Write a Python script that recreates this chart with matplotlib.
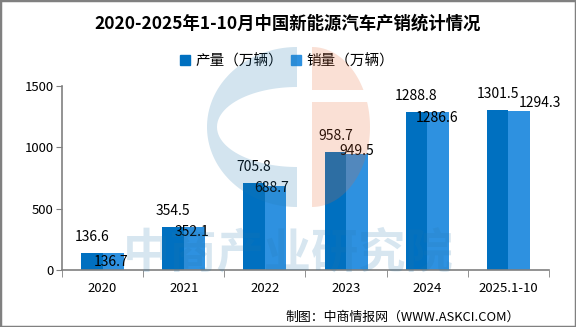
# -*- coding: utf-8 -*-
import numpy as np
import matplotlib
matplotlib.use('Agg')
from matplotlib import pyplot as plt
from matplotlib.patches import Polygon, Rectangle, Patch

plt.rcParams['font.family'] = ['Noto Sans CJK SC', 'DejaVu Sans']

# data
years = ['2020', '2021', '2022', '2023', '2024', '2025.1-10']
production = [136.6, 354.5, 705.8, 958.7, 1288.8, 1301.5]
sales = [136.7, 352.1, 688.7, 949.5, 1286.6, 1294.3]
series_names = ['产量（万辆）', '销量（万辆）']
yticks = [0, 500, 1000, 1500]

# small nudges (in points) for the sales labels, as placed in the original
sales_dx = [-1.5, -2, -3, 0, -1, 15]
sales_dy = [-6, -4, -2, 2, -4, 6]

W, H = 576, 327
c_prod = '#0070C0'
c_sales = '#2E91E0'
grey = '#808080'

fig = plt.figure(figsize=(W / 100, H / 100), dpi=100)
ax = fig.add_axes([62 / W, 1 - 270 / H, 487 / W, 184 / H])

x = np.arange(len(years))
bw = 0.265
ax.bar(x - bw / 2, production, bw, color=c_prod, zorder=2)
ax.bar(x + bw / 2, sales, bw, color=c_sales, zorder=2)

for i in range(len(years)):
    ax.annotate(f'{production[i]:.1f}', (x[i] - bw / 2, production[i]),
                xytext=(0, 11.5), textcoords='offset points',
                ha='center', va='center', fontsize=10, zorder=3)
    ax.annotate(f'{sales[i]:.1f}', (x[i] + bw / 2, sales[i]),
                xytext=(sales_dx[i], sales_dy[i]), textcoords='offset points',
                ha='center', va='center', fontsize=10, zorder=3)

ax.set_xlim(-0.5, len(years) - 0.5)
ax.set_ylim(0, 1500)
ax.set_yticks(yticks)
ax.set_yticklabels([str(v) for v in yticks], fontsize=9.5)
ax.set_xticks(x)
ax.set_xticklabels(years, fontsize=9.5)
ax.set_xticks(np.arange(len(years) + 1) - 0.5, minor=True)
ax.tick_params(axis='x', which='major', length=0, pad=9)
ax.tick_params(axis='x', which='minor', length=5, color=grey, direction='out')
ax.tick_params(axis='y', length=4, color=grey, direction='out', pad=2)
for s in ['top', 'right']:
    ax.spines[s].set_visible(False)
for s in ['left', 'bottom']:
    ax.spines[s].set_color(grey)
    ax.spines[s].set_linewidth(1.2)

fig.text(288 / W, 1 - 24 / H, '2020-2025年1-10月中国新能源汽车产销统计情况',
         ha='center', va='center', fontsize=12.5, fontweight='bold')

handles = [Patch(color=c_prod), Patch(color=c_sales)]
fig.legend(handles, series_names, loc='center', ncol=2,
           bbox_to_anchor=(287 / W, 1 - 61 / H), frameon=False,
           fontsize=10.5, handlelength=0.7, handleheight=0.7,
           handletextpad=0.4, columnspacing=0.5)

fig.text(520 / W, 1 - 317 / H, '制图：中商情报网（WWW.ASKCI.COM）',
         ha='right', va='center', fontsize=9.3)


# watermark logo, drawn in image pixel coordinates on top of everything
def to_fig(px, py):
    return np.column_stack([np.asarray(px) / W, 1 - np.asarray(py) / H])


wm_blue = (35 / 255, 120 / 255, 175 / 255)
wm_peach = (230 / 255, 103 / 255, 49 / 255)

t = np.radians(np.linspace(90, 270, 80))
bx = np.concatenate([297 + 90 * np.cos(t), 297 + 80 * np.cos(t[::-1])])
by = np.concatenate([127 - 80 * np.sin(t), 127 - 40 * np.sin(t[::-1])])
fig.add_artist(Polygon(to_fig(bx, by), closed=True, transform=fig.transFigure,
                       facecolor=wm_blue, edgecolor='none', alpha=0.2, zorder=10))

t_up = np.radians(np.linspace(90, np.degrees(np.arcsin(37 / 80)), 40))
px_up = np.concatenate([312 + 58 * np.cos(t_up), [312]])
py_up = np.concatenate([127 - 80 * np.sin(t_up), [90]])
t_lo = np.radians(np.linspace(np.degrees(np.arcsin(25 / 80)), -90, 60))
px_lo = np.concatenate([[312], 312 + 58 * np.cos(t_lo)])
py_lo = np.concatenate([[102], 127 - 80 * np.sin(t_lo)])
for px, py in [(px_up, py_up), (px_lo, py_lo)]:
    fig.add_artist(Polygon(to_fig(px, py), closed=True, transform=fig.transFigure,
                           facecolor=wm_peach, edgecolor='none', alpha=0.2, zorder=10))

fig.text(288 / W, 1 - 253 / H, '中商产业研究院', ha='center', va='center',
         fontsize=34, fontweight='bold', color=wm_blue, alpha=0.18, zorder=10)

# grey frame round the picture
fig.add_artist(Rectangle((0, 0), 1, 1, transform=fig.transFigure, fill=False,
                         edgecolor=grey, linewidth=2.5, zorder=11))

fig.savefig('out.png', dpi=100)
